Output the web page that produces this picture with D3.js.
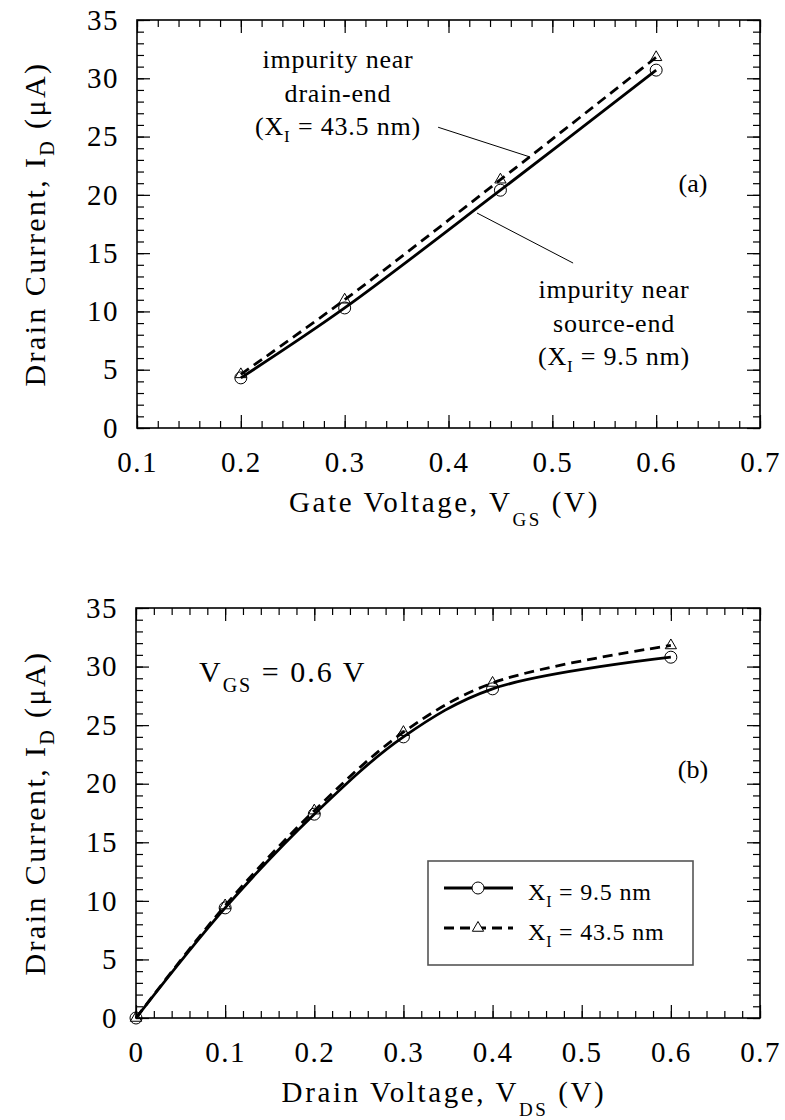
<!DOCTYPE html>
<html>
<head>
<meta charset="utf-8">
<script src="https://cdn.jsdelivr.net/npm/d3@7"></script>
<style>
  body { margin: 0; background: #fff; }
</style>
</head>
<body>
<script>
// panel (a): drain current vs gate voltage
var gateVoltage = [0.2, 0.3, 0.45, 0.6];
var gateSource = [4.3, 10.3, 20.4, 30.7];   // X_I = 9.5 nm
var gateDrain = [4.6, 11.0, 21.3, 31.8];    // X_I = 43.5 nm

// panel (b): drain current vs drain voltage
var drainVoltage = [0, 0.1, 0.2, 0.3, 0.4, 0.6];
var drainSource = [0, 9.4, 17.4, 24.0, 28.1, 30.8];
var drainDrain = [0, 9.6, 17.7, 24.4, 28.6, 31.8];

var gateTicks = [0.1, 0.2, 0.3, 0.4, 0.5, 0.6, 0.7];
var drainTicks = [0, 0.1, 0.2, 0.3, 0.4, 0.5, 0.6, 0.7];
var currentTicks = [0, 5, 10, 15, 20, 25, 30, 35];

var serif = "'Liberation Serif', 'DejaVu Serif', serif";

var svg = d3.select("body")
    .append("svg")
    .attr("width", 785)
    .attr("height", 1120)
    .style("font-family", serif);

// draws one framed panel and returns its scales
function drawPanel(p) {

  var x = d3.scaleLinear().domain(p.xDomain).range([p.left, p.right]);
  var y = d3.scaleLinear().domain([0, 35]).range([p.bottom, p.top]);

  var g = svg.append("g");

  var xMinor = d3.range(p.xDomain[0], p.xDomain[1] + 0.001, 0.02);
  var yMinor = d3.range(0, 36, 1);

  // ticks point inward on all four sides
  function styleAxis(sel) {
    sel.attr("font-family", null);
    sel.select(".domain").remove();
    sel.selectAll("line").attr("stroke", "#000").attr("stroke-width", 1.2);
    sel.selectAll("text")
      .style("font-family", serif)
      .style("font-size", "29px")
      .style("letter-spacing", "1.5px")
      .attr("fill", "#000");
  }

  g.append("g").attr("transform", "translate(0," + p.bottom + ")")
    .call(d3.axisBottom(x).tickValues(xMinor).tickSize(-7).tickFormat(""))
    .call(styleAxis);
  g.append("g").attr("transform", "translate(0," + p.bottom + ")")
    .call(d3.axisBottom(x).tickValues(p.xTicks).tickSize(-13)
      .tickFormat(function(d) { return d === 0 ? "0" : d3.format(".1f")(d); }))
    .call(styleAxis)
    .selectAll("text").attr("dy", "0.71em").attr("y", 23);

  g.append("g").attr("transform", "translate(0," + p.top + ")")
    .call(d3.axisTop(x).tickValues(xMinor).tickSize(-7).tickFormat(""))
    .call(styleAxis);
  g.append("g").attr("transform", "translate(0," + p.top + ")")
    .call(d3.axisTop(x).tickValues(p.xTicks).tickSize(-13).tickFormat(""))
    .call(styleAxis);

  g.append("g").attr("transform", "translate(" + p.left + ",0)")
    .call(d3.axisLeft(y).tickValues(yMinor).tickSize(-7).tickFormat(""))
    .call(styleAxis);
  g.append("g").attr("transform", "translate(" + p.left + ",0)")
    .call(d3.axisLeft(y).tickValues(currentTicks).tickSize(-13).tickPadding(18))
    .call(styleAxis);

  g.append("g").attr("transform", "translate(" + p.right + ",0)")
    .call(d3.axisRight(y).tickValues(yMinor).tickSize(-7).tickFormat(""))
    .call(styleAxis);
  g.append("g").attr("transform", "translate(" + p.right + ",0)")
    .call(d3.axisRight(y).tickValues(currentTicks).tickSize(-13).tickFormat(""))
    .call(styleAxis);

  // frame
  g.append("rect")
    .attr("x", p.left).attr("y", p.top)
    .attr("width", p.right - p.left).attr("height", p.bottom - p.top)
    .attr("fill", "none").attr("stroke", "#000").attr("stroke-width", 1.6);

  // y label
  var yl = g.append("text")
    .attr("transform", "translate(45," + (p.top + p.bottom) / 2 + ") rotate(-90)")
    .attr("text-anchor", "middle")
    .style("font-size", "30px")
    .style("letter-spacing", "2.4px");
  yl.append("tspan").text("Drain Current, I");
  yl.append("tspan").attr("dy", 9).style("font-size", "20px").text("D");
  yl.append("tspan").attr("dy", -9).text(" (\u03BCA)");

  // x label
  var xl = g.append("text")
    .attr("x", (p.left + p.right) / 2 - 4)
    .attr("y", p.bottom + 84)
    .attr("text-anchor", "middle")
    .style("font-size", "29px")
    .style("letter-spacing", "2.6px");
  xl.append("tspan").text(p.xLabel + ", V");
  xl.append("tspan").attr("dy", 14).style("font-size", "19px").text(p.xSub);
  xl.append("tspan").attr("dy", -14).text(" (V)");

  // curves and markers
  var line = d3.line()
    .x(function(d) { return x(d[0]); })
    .y(function(d) { return y(d[1]); })
    .curve(d3.curveCatmullRom.alpha(0.5));

  var solid = d3.zip(p.xs, p.solid);
  var dashed = d3.zip(p.xs, p.dashed);

  g.append("path").datum(solid)
    .attr("d", line)
    .attr("fill", "none").attr("stroke", "#000").attr("stroke-width", 2.8);
  g.append("path").datum(dashed)
    .attr("d", line)
    .attr("fill", "none").attr("stroke", "#000").attr("stroke-width", 2.8)
    .attr("stroke-dasharray", "10,6");

  g.selectAll(".circ").data(solid).enter()
    .append("circle")
    .attr("class", "circ")
    .attr("cx", function(d) { return x(d[0]); })
    .attr("cy", function(d) { return y(d[1]); })
    .attr("r", 6)
    .attr("fill", "none").attr("stroke", "#000").attr("stroke-width", 1);

  var tri = d3.symbol().type(d3.symbolTriangle).size(55);
  g.selectAll(".tri").data(dashed).enter()
    .append("path")
    .attr("class", "tri")
    .attr("d", tri)
    .attr("transform", function(d) { return "translate(" + x(d[0]) + "," + y(d[1]) + ")"; })
    .attr("fill", "none").attr("stroke", "#000").attr("stroke-width", 1);

  return { x: x, y: y, g: g };
}

// small helper for stacked annotation lines with X_I subscript
function annotation(g, cx, baselines, lines) {
  lines.forEach(function(l, i) {
    var t = g.append("text")
      .attr("x", cx).attr("y", baselines[i])
      .attr("text-anchor", "middle")
      .style("font-size", "26px")
      .style("letter-spacing", "0.8px");
    if (typeof l === "string") {
      t.text(l);
    } else {
      t.append("tspan").text(l[0]);
      t.append("tspan").attr("dy", 7).style("font-size", "17px").text(l[1]);
      t.append("tspan").attr("dy", -7).text(l[2]);
    }
  });
}

var a = drawPanel({
  left: 137, right: 760, top: 20, bottom: 428,
  xDomain: [0.1, 0.7], xTicks: gateTicks,
  xLabel: "Gate Voltage", xSub: "GS",
  xs: gateVoltage, solid: gateSource, dashed: gateDrain
});

annotation(a.g, 338, [68, 102, 135],
  ["impurity near", "drain-end", ["(X", "I", " = 43.5 nm)"]]);
annotation(a.g, 614, [298, 332, 365],
  ["impurity near", "source-end", ["(X", "I", " = 9.5 nm)"]]);

// leader lines, in data units
var leaders = [
  [[0.39, 25.8], [0.4785, 23.25]],
  [[0.4275, 18.44], [0.52, 14.15]]
];
a.g.selectAll(".leader").data(leaders).enter()
  .append("line")
  .attr("x1", function(d) { return a.x(d[0][0]); })
  .attr("y1", function(d) { return a.y(d[0][1]); })
  .attr("x2", function(d) { return a.x(d[1][0]); })
  .attr("y2", function(d) { return a.y(d[1][1]); })
  .attr("stroke", "#000").attr("stroke-width", 1);

a.g.append("text").attr("x", 693).attr("y", 192)
  .attr("text-anchor", "middle").style("font-size", "26px").text("(a)");

var b = drawPanel({
  left: 136, right: 760, top: 608, bottom: 1018,
  xDomain: [0, 0.7], xTicks: drainTicks,
  xLabel: "Drain Voltage", xSub: "DS",
  xs: drainVoltage, solid: drainSource, dashed: drainDrain
});

b.g.append("text").attr("x", 693).attr("y", 778)
  .attr("text-anchor", "middle").style("font-size", "26px").text("(b)");

var vgs = b.g.append("text").attr("x", 199).attr("y", 682)
  .style("font-size", "30px").style("letter-spacing", "2px");
vgs.append("tspan").text("V");
vgs.append("tspan").attr("dy", 10).style("font-size", "20px").text("GS");
vgs.append("tspan").attr("dy", -10).text(" = 0.6 V");

// legend
var legend = b.g.append("g");
legend.append("rect")
  .attr("x", 428).attr("y", 861).attr("width", 265).attr("height", 104)
  .attr("fill", "#fff").attr("stroke", "#555").attr("stroke-width", 1.6);

var legendItems = [
  { label: " = 9.5 nm", dash: null, marker: "circle" },
  { label: " = 43.5 nm", dash: "10,6", marker: "triangle" }
];
legendItems.forEach(function(d, i) {
  var ly = 888 + i * 40;
  legend.append("line")
    .attr("x1", 444).attr("x2", 513).attr("y1", ly).attr("y2", ly)
    .attr("stroke", "#000").attr("stroke-width", 2.8)
    .attr("stroke-dasharray", d.dash);
  if (d.marker === "circle") {
    legend.append("circle").attr("cx", 478).attr("cy", ly).attr("r", 6)
      .attr("fill", "#fff").attr("stroke", "#000").attr("stroke-width", 1);
  } else {
    legend.append("path").attr("d", d3.symbol().type(d3.symbolTriangle).size(55))
      .attr("transform", "translate(478," + ly + ")")
      .attr("fill", "#fff").attr("stroke", "#000").attr("stroke-width", 1);
  }
  var t = legend.append("text").attr("x", 528).attr("y", ly + 12)
    .style("font-size", "24px").style("letter-spacing", "0.8px");
  t.append("tspan").text("X");
  t.append("tspan").attr("dy", 7).style("font-size", "16px").text("I");
  t.append("tspan").attr("dy", -7).text(d.label);
});
</script>
</body>
</html>
